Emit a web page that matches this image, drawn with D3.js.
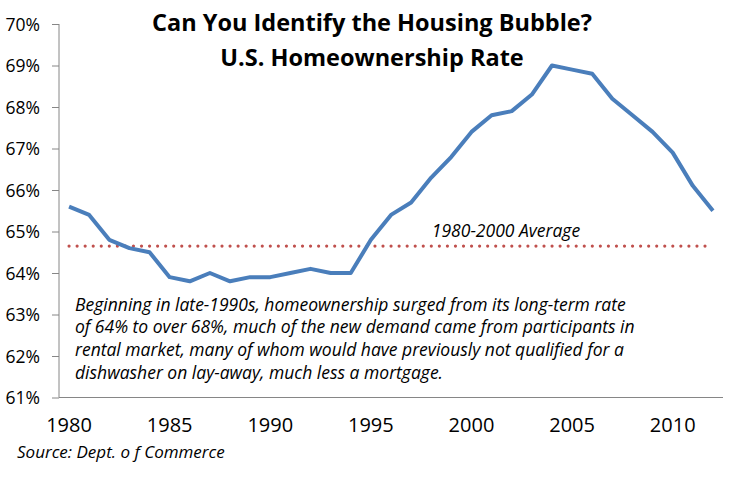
<!DOCTYPE html>
<html>
<head>
<meta charset="utf-8">
<script src="https://cdn.jsdelivr.net/npm/d3@7"></script>
<style>
  body { margin: 0; background: #fff; }
  text { font-family: "Open Sans", Lato, sans-serif; }
</style>
</head>
<body>
<svg id="chart" width="751" height="477"></svg>
<script>
// homeownership rate, percent
const years = d3.range(1980, 2013);
const rate = [65.6, 65.4, 64.8, 64.6, 64.5, 63.9, 63.8, 64.0, 63.8, 63.9,
              63.9, 64.0, 64.1, 64.0, 64.0, 64.8, 65.4, 65.7, 66.3, 66.8,
              67.4, 67.8, 67.9, 68.3, 69.0, 68.9, 68.8, 68.2, 67.8, 67.4,
              66.9, 66.1, 65.5];
const average = 64.65;
const yTicks = [61, 62, 63, 64, 65, 66, 67, 68, 69, 70];
const xTickYears = [1980, 1985, 1990, 1995, 2000, 2005, 2010];
const titleLines = ["Can You Identify the Housing Bubble?", "U.S. Homeownership Rate"];
const noteLines = [
  "Beginning in late-1990s, homeownership surged from its long-term rate",
  "of 64% to over 68%, much of the new demand came from participants in",
  "rental market, many of whom would have previously not qualified for a",
  "dishwasher on lay-away, much less a mortgage."
];

const svg = d3.select("#chart");
const plotLeft = 59, plotRight = 723, plotTop = 24, plotBottom = 397.5;

const x = d3.scaleBand().domain(years).range([plotLeft, plotRight]);
const cx = d => x(d) + x.bandwidth() / 2;
const y = d3.scaleLinear().domain([61, 70]).range([plotBottom, plotTop]);

// y axis
const yAxis = svg.append("g")
    .attr("transform", "translate(" + plotLeft + ",0)")
    .call(d3.axisLeft(y).tickValues(yTicks).tickSize(7).tickPadding(12)
      .tickFormat(d => d + "%"));
yAxis.select(".domain").attr("stroke", "#868686").attr("d", "M0," + plotTop + "V" + plotBottom);
yAxis.selectAll(".tick line").attr("stroke", "#868686");
yAxis.selectAll(".tick text").attr("font-size", 17.5).attr("fill", "#000").attr("dy", "0.36em");

// x axis, labels only
const xAxis = svg.append("g")
    .attr("transform", "translate(0," + plotBottom + ")")
    .call(d3.axisBottom(x).tickValues(xTickYears).tickSize(0).tickPadding(0));
xAxis.select(".domain").attr("stroke", "#868686").attr("d", "M" + plotLeft + ",0H" + plotRight);
xAxis.selectAll(".tick text").attr("font-size", 20).attr("fill", "#000")
    .attr("dy", 0).attr("y", 34.5);

// average line
svg.append("line")
    .attr("x1", cx(years[0])).attr("x2", cx(years[years.length - 1]))
    .attr("y1", y(average)).attr("y2", y(average))
    .attr("stroke", "#C0504D").attr("stroke-width", 3.2)
    .attr("stroke-linecap", "round").attr("stroke-dasharray", "0 8.05");

// rate line
svg.append("path")
    .datum(rate)
    .attr("fill", "none")
    .attr("stroke", "#4A7EBB")
    .attr("stroke-width", 4)
    .attr("stroke-linejoin", "round")
    .attr("d", d3.line().x((d, i) => cx(years[i])).y(d => y(d)));

// title
svg.selectAll(".title").data(titleLines).enter().append("text")
    .attr("class", "title")
    .attr("x", 372).attr("y", (d, i) => 31 + i * 34.5)
    .attr("text-anchor", "middle")
    .attr("font-size", 23.5).attr("font-weight", "bold")
    .text(d => d);

// labels
svg.append("text")
    .attr("x", 506).attr("y", 237).attr("text-anchor", "middle")
    .attr("font-size", 17.5).attr("font-style", "italic")
    .text("1980-2000 Average");

svg.selectAll(".note").data(noteLines).enter().append("text")
    .attr("class", "note")
    .attr("x", 75).attr("y", (d, i) => 310.5 + i * 22.7)
    .attr("font-size", 17.5).attr("font-style", "italic")
    .text(d => d);

svg.append("text")
    .attr("x", 17).attr("y", 458)
    .attr("font-size", 17).attr("font-style", "italic")
    .text("Source: Dept. o f Commerce");
</script>
</body>
</html>
